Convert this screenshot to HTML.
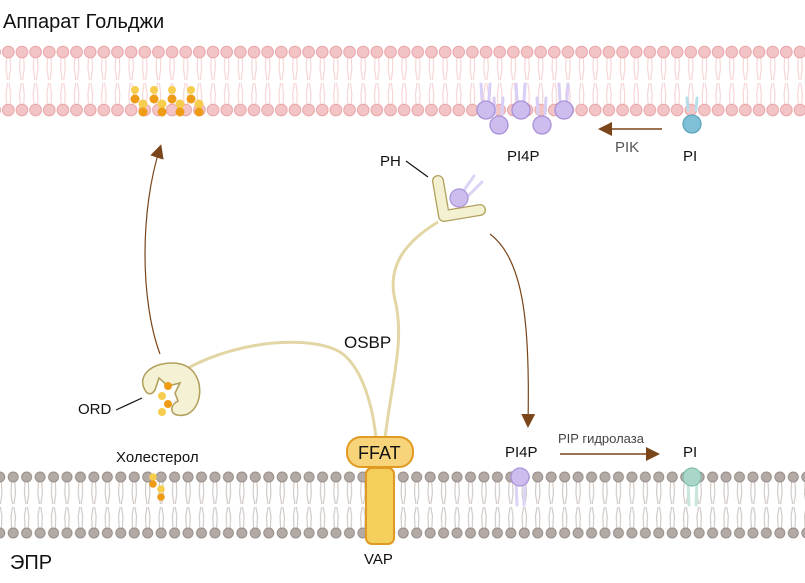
<!DOCTYPE html>
<html><head><meta charset="utf-8"><style>
html,body{margin:0;padding:0;background:#fff}
svg{display:block}
text{font-family:"Liberation Sans","DejaVu Sans",sans-serif;fill:#111}
</style></head><body>
<svg width="805" height="583" viewBox="0 0 805 583" xmlns="http://www.w3.org/2000/svg">
<defs>
<pattern id="golgi" x="1.5" y="0" width="13.65" height="583" patternUnits="userSpaceOnUse">
 <g stroke="#f6d2d2" stroke-width="1.1" fill="none">
  <path d="M5 58 L4.5 68 L6 80 M8.6 58 L9.1 68 L7.6 80"/>
  <path d="M5 104 L4.5 94 L6 83 M8.6 104 L9.1 94 L7.6 83"/>
 </g>
 <circle cx="6.8" cy="52" r="5.8" fill="#f2c4c6" stroke="#e9a3a6" stroke-width="1"/>
 <circle cx="6.8" cy="110" r="5.8" fill="#f2c4c6" stroke="#e9a3a6" stroke-width="1"/>
</pattern>
<pattern id="er" x="6.5" y="0" width="13.45" height="583" patternUnits="userSpaceOnUse">
 <g stroke="#cdc6c2" stroke-width="1.1" fill="none">
  <path d="M5 482 L4.5 494 L6 504 M8.4 482 L8.9 494 L7.4 504"/>
  <path d="M5 528 L4.5 516 L6 507 M8.4 528 L8.9 516 L7.4 507"/>
 </g>
 <circle cx="6.7" cy="477" r="5" fill="#b3aaa6" stroke="#978d89" stroke-width="1"/>
 <circle cx="6.7" cy="533" r="5" fill="#b3aaa6" stroke="#978d89" stroke-width="1"/>
</pattern>
<marker id="ah" markerWidth="14" markerHeight="14" refX="10" refY="7" orient="auto" markerUnits="userSpaceOnUse" viewBox="0 0 14 14"><path d="M0 0 L14 7 L0 14 Z" fill="#7a4519"/></marker>
</defs>

<text x="3" y="28" font-size="20">Аппарат Гольджи</text>
<text x="10" y="569" font-size="20">ЭПР</text>

<rect x="0" y="40" width="805" height="80" fill="url(#golgi)"/>
<rect x="0" y="465" width="805" height="80" fill="url(#er)"/>

<g>
 <g id="ch1"><circle cx="135" cy="90" r="4" fill="#f7cd4d"/><circle cx="135" cy="99" r="4.5" fill="#ee9c16"/><circle cx="143" cy="104" r="4.5" fill="#f7cd4d"/><circle cx="143" cy="112" r="4.5" fill="#ee9c16"/></g>
 <use href="#ch1" x="19"/><use href="#ch1" x="37"/><use href="#ch1" x="56"/>
</g>

<g stroke="#d9cef5" stroke-width="3" fill="none" stroke-linecap="round">
 <path d="M482 100 L481 84 M489 100 L490 84"/>
 <path d="M495 114 L494 98 M502 114 L503 98"/>
 <path d="M517 100 L516 84 M524 100 L525 84"/>
 <path d="M538 114 L537 98 M545 114 L546 98"/>
 <path d="M560 100 L559 84 M567 100 L568 84"/>
 <path d="M688 110 L687 98 M696 110 L697 98" stroke="#b6dfec"/>
</g>
<g fill="#cdbdee" stroke="#a992d8" stroke-width="1.3">
 <circle cx="486" cy="110" r="9"/><circle cx="499" cy="125" r="9"/><circle cx="521" cy="110" r="9"/><circle cx="542" cy="125" r="9"/><circle cx="564" cy="110" r="9"/>
</g>
<circle cx="692" cy="124" r="9" fill="#7fc0d6" stroke="#5fa6bf" stroke-width="1.3"/>
<text x="507" y="161" font-size="15">PI4P</text>
<text x="683" y="161" font-size="15">PI</text>
<text x="615" y="152" font-size="15" style="fill:#555">PIK</text>
<line x1="662" y1="129" x2="602" y2="129" stroke="#7a4519" stroke-width="1.5" marker-end="url(#ah)"/>

<path d="M160 354 C140 300 140 210 160 148" stroke="#7a4519" stroke-width="1.2" fill="none" marker-end="url(#ah)"/>
<path d="M490 234 C525 260 530 330 528 424" stroke="#7a4519" stroke-width="1.2" fill="none" marker-end="url(#ah)"/>
<line x1="560" y1="454" x2="656" y2="454" stroke="#7a4519" stroke-width="1.5" marker-end="url(#ah)"/>

<path d="M188 368 C240 340 310 335 340 352 C360 365 372 400 376 438" stroke="#e3d6a5" stroke-width="3" fill="none"/>
<path d="M385 438 C392 380 405 340 395 300 C388 270 400 245 438 222" stroke="#e3d6a5" stroke-width="3" fill="none"/>

<g stroke="#b2a15d" stroke-width="12" fill="none" stroke-linecap="round" stroke-linejoin="round"><path d="M438 181 L444 216 L480 210"/></g>
<g stroke="#f4f1d2" stroke-width="9.4" fill="none" stroke-linecap="round" stroke-linejoin="round"><path d="M438 181 L444 216 L480 210"/></g>
<path d="M462 193 L474 176 M467 197 L482 182" stroke="#ddd3f5" stroke-width="3" stroke-linecap="round"/>
<circle cx="459" cy="198" r="9" fill="#cdbdee" stroke="#a992d8" stroke-width="1.2"/>
<text x="380" y="166" font-size="15">PH</text>
<line x1="406" y1="161" x2="428" y2="177" stroke="#111" stroke-width="1.2"/>

<path d="M145 390 C137 377 150 363 172 363 C195 363 202 382 199 398 C196 411 187 417 177 415 C169 413 171 404 178 401 L175 393 L180 383 L168 386 L159 378 L155 390 C151 396 147 394 145 390 Z" fill="#f5f1d4" stroke="#b2a15d" stroke-width="1.6"/>
<g><circle cx="168" cy="386" r="4" fill="#ee9c16"/><circle cx="162" cy="396" r="4" fill="#f7cd4d"/><circle cx="168" cy="404" r="4" fill="#ee9c16"/><circle cx="162" cy="412" r="4" fill="#f7cd4d"/></g>
<text x="78" y="414" font-size="15">ORD</text>
<line x1="116" y1="410" x2="142" y2="398" stroke="#111" stroke-width="1.2"/>

<text x="344" y="348" font-size="17">OSBP</text>

<text x="116" y="462" font-size="15">Холестерол</text>
<g><circle cx="153" cy="477" r="3.8" fill="#f7cd4d"/><circle cx="153" cy="484" r="3.8" fill="#ee9c16"/><circle cx="161" cy="489" r="3.8" fill="#f7cd4d"/><circle cx="161" cy="497" r="3.8" fill="#ee9c16"/></g>

<rect x="366" y="468" width="28" height="76" rx="6" fill="#f5cf5c" stroke="#e09a22" stroke-width="2"/>
<rect x="347" y="437" width="66" height="30" rx="14" fill="#f7d47a" stroke="#e09a22" stroke-width="2"/>
<text x="358" y="459" font-size="18">FFAT</text>
<text x="364" y="564" font-size="15">VAP</text>

<path d="M516 482 L517 505 M525 482 L524 505" stroke="#ddd3f5" stroke-width="3" stroke-linecap="round"/>
<circle cx="520" cy="477" r="9" fill="#cdbdee" stroke="#a992d8" stroke-width="1.2"/>
<path d="M688 482 L689 505 M697 482 L696 505" stroke="#c8e6dc" stroke-width="3" stroke-linecap="round"/>
<circle cx="692" cy="477" r="9" fill="#a9d6c8" stroke="#83bfad" stroke-width="1.2"/>
<text x="505" y="457" font-size="15">PI4P</text>
<text x="683" y="457" font-size="15">PI</text>
<text x="558" y="443" font-size="13" style="fill:#444">PIP гидролаза</text>
</svg>
</body></html>
